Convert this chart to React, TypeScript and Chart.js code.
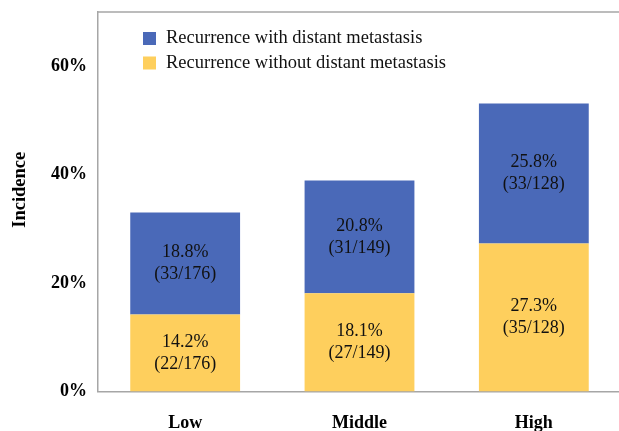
import { useEffect, useRef } from 'react';
import { Chart, registerables } from 'chart.js';

Chart.register(...registerables);

// Recurrence incidence by risk group (percent of patients)
const categories = ['Low', 'Middle', 'High'];
const withoutMetastasis = [14.2, 18.1, 27.3];
const withoutMetastasisCounts = ['22/176', '27/149', '35/128'];
const withMetastasis = [18.8, 20.8, 25.8];
const withMetastasisCounts = ['33/176', '31/149', '33/128'];
const yTicks = [0, 20, 40, 60];
const yMax = 70;
const yTitle = 'Incidence';

const BLUE = '#4A69B8';
const YELLOW = '#FECF5D';
const FRAME = '#A6A6A6';
const SERIF = '"Liberation Serif", "Times New Roman", Times, serif';

// Percent + count text inside each stacked segment
const segmentLabels = {
  id: 'segmentLabels',
  afterDatasetsDraw(chart: any) {
    const ctx = chart.ctx;
    ctx.save();
    ctx.font = `18px ${SERIF}`;
    ctx.fillStyle = '#111';
    ctx.textAlign = 'center';
    ctx.textBaseline = 'middle';
    chart.data.datasets.forEach((ds: any, di: number) => {
      const meta = chart.getDatasetMeta(di);
      meta.data.forEach((bar: any, i: number) => {
        const cy = (bar.y + bar.base) / 2;
        ctx.fillText(`${Number(ds.data[i]).toFixed(1)}%`, bar.x, cy - 11);
        ctx.fillText(`(${ds.counts[i]})`, bar.x, cy + 11);
      });
    });
    ctx.restore();
  },
};

// Top edge of the plot frame
const frameTop = {
  id: 'frameTop',
  beforeDatasetsDraw(chart: any) {
    const { ctx, chartArea } = chart;
    ctx.save();
    ctx.strokeStyle = FRAME;
    ctx.lineWidth = 1.5;
    ctx.beginPath();
    ctx.moveTo(chartArea.left, chartArea.top);
    ctx.lineTo(chartArea.right, chartArea.top);
    ctx.stroke();
    ctx.restore();
  },
};

// Rotated y-axis title, sitting a little above the axis middle
const axisTitle = {
  id: 'axisTitle',
  afterDraw(chart: any) {
    const { ctx, chartArea } = chart;
    ctx.save();
    ctx.translate(20, (chartArea.top + chartArea.bottom) / 2 - 12);
    ctx.rotate(-Math.PI / 2);
    ctx.font = `bold 18.5px ${SERIF}`;
    ctx.fillStyle = '#000';
    ctx.textAlign = 'center';
    ctx.textBaseline = 'middle';
    ctx.fillText(yTitle, 0, 0);
    ctx.restore();
  },
};

// Legend box inside the plot, top-left, upper series listed first
const insideLegend = {
  id: 'insideLegend',
  afterDraw(chart: any) {
    const { ctx, chartArea } = chart;
    const items = [...chart.data.datasets].reverse();
    ctx.save();
    ctx.font = `18.5px ${SERIF}`;
    ctx.textAlign = 'left';
    ctx.textBaseline = 'middle';
    items.forEach((ds: any, i: number) => {
      const top = chartArea.top + 20 + i * 24.5;
      ctx.fillStyle = ds.backgroundColor;
      ctx.fillRect(chartArea.left + 45, top, 13, 13);
      ctx.fillStyle = '#111';
      ctx.fillText(ds.label, chartArea.left + 68, top + 6.5);
    });
    ctx.restore();
  },
};

export default function App() {
  const canvasRef = useRef<HTMLCanvasElement | null>(null);

  useEffect(() => {
    if (!canvasRef.current) return;
    const chart = new Chart(canvasRef.current, {
      type: 'bar',
      data: {
        labels: categories,
        datasets: [
          {
            label: 'Recurrence without distant metastasis',
            data: withoutMetastasis,
            counts: withoutMetastasisCounts,
            backgroundColor: YELLOW,
          } as any,
          {
            label: 'Recurrence with distant metastasis',
            data: withMetastasis,
            counts: withMetastasisCounts,
            backgroundColor: BLUE,
          } as any,
        ],
      },
      options: {
        animation: false,
        responsive: false,
        devicePixelRatio: 1,
        layout: { padding: { top: 12, right: 4, bottom: 0, left: 0 } },
        datasets: { bar: { categoryPercentage: 1, barPercentage: 0.63 } },
        plugins: {
          legend: { display: false },
          tooltip: { enabled: false },
        },
        scales: {
          x: {
            stacked: true,
            grid: { display: false, drawTicks: false },
            border: { display: true, color: FRAME, width: 1.5 },
            ticks: {
              color: '#000',
              padding: 21,
              font: { family: SERIF, size: 18, weight: 'bold' },
            },
            afterFit: (s: any) => {
              s.height = 39.5;
              s.paddingLeft = 0;
              s.paddingRight = 0;
            },
          },
          y: {
            stacked: true,
            min: 0,
            max: yMax,
            grid: { display: false, drawTicks: false },
            border: { display: true, color: FRAME, width: 1.5 },
            afterBuildTicks: (s: any) => {
              s.ticks = yTicks.map((v) => ({ value: v }));
            },
            ticks: {
              color: '#000',
              padding: 11,
              font: { family: SERIF, size: 18, weight: 'bold' },
              callback: (v: any) => `${v}%`,
            },
            afterFit: (s: any) => {
              s.width = 98;
              s.paddingTop = 0;
              s.paddingBottom = 0;
            },
          },
        },
      },
      plugins: [frameTop, segmentLabels, axisTitle, insideLegend],
    });
    return () => chart.destroy();
  }, []);

  return (
    <div
      style={{
        position: 'fixed',
        left: 0,
        top: 0,
        width: 619,
        height: 431,
        overflow: 'hidden',
        background: '#fff',
      }}
    >
      <canvas ref={canvasRef} width={625} height={431} style={{ display: 'block' }} />
    </div>
  );
}
